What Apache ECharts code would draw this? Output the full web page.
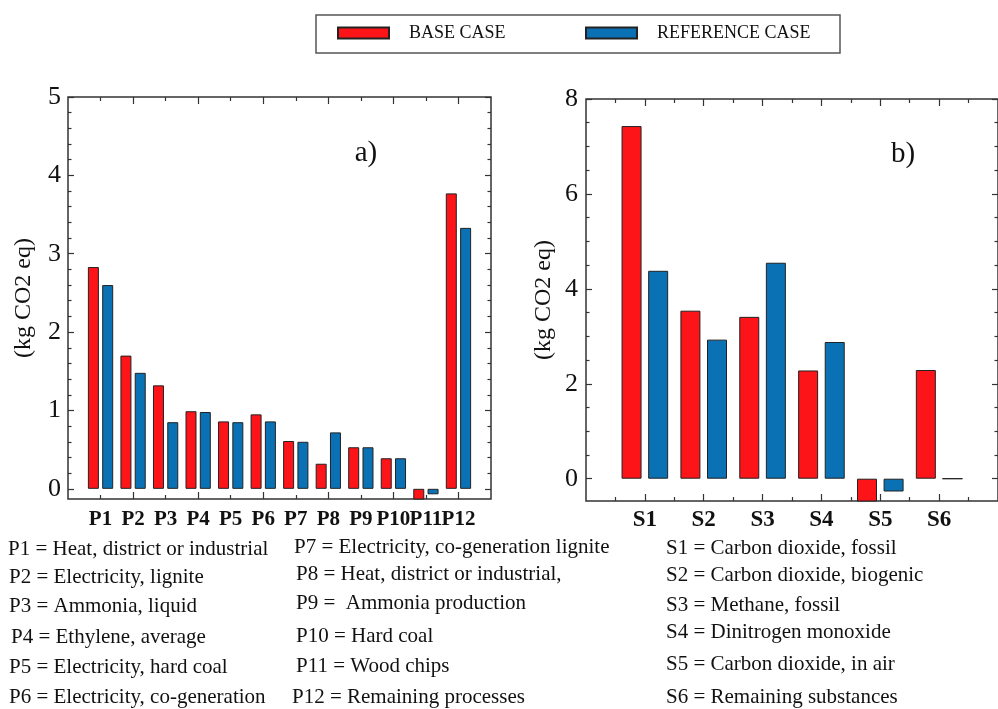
<!DOCTYPE html>
<html>
<head>
<meta charset="utf-8">
<script src="https://cdn.jsdelivr.net/npm/echarts@6/dist/echarts.min.js"></script>
<style>
html,body{margin:0;padding:0;background:#fff;}
#chart{width:998px;height:709px;}
</style>
</head>
<body>
<div id="chart"></div>
<script>
// ---- data ----
const catsA = ['P1','P2','P3','P4','P5','P6','P7','P8','P9','P10','P11','P12'];
const baseA = [2.83, 1.70, 1.32, 0.99, 0.86, 0.95, 0.61, 0.32, 0.53, 0.39, -0.15, 3.77];
const refA  = [2.60, 1.48, 0.85, 0.98, 0.85, 0.86, 0.60, 0.72, 0.53, 0.39, -0.07, 3.33];
const catsB = ['S1','S2','S3','S4','S5','S6'];
const baseB = [7.43, 3.54, 3.41, 2.28, -0.55, 2.29];
const refB  = [4.38, 2.93, 4.55, 2.88, -0.27, 0];
const yTicksA = [0, 1, 2, 3, 4, 5];
const yTicksB = [0, 2, 4, 6, 8];
const seriesNames = ['BASE CASE', 'REFERENCE CASE'];
const notesP = [
  'P1 = Heat, district or industrial', 'P2 = Electricity, lignite', 'P3 = Ammonia, liquid',
  'P4 = Ethylene, average', 'P5 = Electricity, hard coal', 'P6 = Electricity, co-generation'
];
const notesP2 = [
  'P7 = Electricity, co-generation lignite', 'P8 = Heat, district or industrial,', 'P9 =  Ammonia production',
  'P10 = Hard coal', 'P11 = Wood chips', 'P12 = Remaining processes'
];
const notesS = [
  'S1 = Carbon dioxide, fossil', 'S2 = Carbon dioxide, biogenic', 'S3 = Methane, fossil',
  'S4 = Dinitrogen monoxide', 'S5 = Carbon dioxide, in air', 'S6 = Remaining substances'
];

// ---- style ----
const RED = '#fd1418';
const BLUE = '#0a72b4';
const SERIF = '"Liberation Serif", "Times New Roman", serif';
const INK = '#111';

const chart = echarts.init(document.getElementById('chart'), null, {renderer: 'canvas'});

function range(a, b, step) { const r = []; for (let v = a; v <= b + 1e-9; v += step) r.push(+v.toFixed(4)); return r; }
function minus(all, major) { return all.filter(v => !major.some(m => Math.abs(m - v) < 1e-6)); }

function mkAxis(o) {
  const ax = {
    type: 'value', gridIndex: o.grid, position: o.pos, min: o.min, max: o.max,
    axisLine: {show: false, onZero: false},
    splitLine: {show: false},
    axisTick: o.ticks ? {show: true, inside: true, length: o.len, customValues: o.ticks,
      lineStyle: {color: '#333', width: 1.2}} : {show: false},
    axisLabel: o.labels ? {show: true, customValues: o.labels, formatter: o.fmt, margin: o.margin,
      showMinLabel: true, showMaxLabel: true,
      fontFamily: SERIF, fontSize: o.fs, fontWeight: o.fw || 'normal', color: INK} : {show: false}
  };
  if (o.name) {
    ax.name = o.name; ax.nameLocation = 'middle'; ax.nameGap = o.nameGap;
    ax.nameTextStyle = {fontFamily: SERIF, fontSize: 24, color: INK};
  }
  return ax;
}

const xMaxA = catsA.length + 1;
const xMaxB = catsB.length + 1;
const yMinA = -0.13, yMaxA = 5;
const yMinB = -0.47, yMaxB = 8;

const idxA = catsA.map((c, i) => i + 1);
const idxB = catsB.map((c, i) => i + 1);
const xMajA = idxA.filter(v => v % 2 === 0);
const xMinA = idxA.filter(v => v % 2 === 1);
const xMinB = range(0.5, xMaxB - 0.5, 1);
const yMinorA = minus(range(0.2, 4.8, 0.2), yTicksA);
const yMinorB = minus(range(0.5, 7.5, 0.5), yTicksB);
const fmtA = v => catsA[Math.round(v) - 1] || '';
const fmtB = v => catsB[Math.round(v) - 1] || '';

const xAxes = [
  // grid 0 (labels split odd / even so that neighbouring labels never get auto-hidden)
  mkAxis({grid: 0, pos: 'bottom', min: 0, max: xMaxA, ticks: xMajA, len: 7, labels: xMajA,
          fmt: fmtA, margin: 10, fs: 21, fw: 'bold'}),
  mkAxis({grid: 0, pos: 'bottom', min: 0, max: xMaxA, ticks: xMinA, len: 4, labels: xMinA,
          fmt: fmtA, margin: 10, fs: 21, fw: 'bold'}),
  mkAxis({grid: 0, pos: 'top', min: 0, max: xMaxA, ticks: xMajA, len: 7}),
  mkAxis({grid: 0, pos: 'top', min: 0, max: xMaxA, ticks: xMinA, len: 4}),
  // grid 1
  mkAxis({grid: 1, pos: 'bottom', min: 0, max: xMaxB, ticks: idxB, len: 7, labels: idxB,
          fmt: fmtB, margin: 8, fs: 23, fw: 'bold'}),
  mkAxis({grid: 1, pos: 'bottom', min: 0, max: xMaxB, ticks: xMinB, len: 4}),
  mkAxis({grid: 1, pos: 'top', min: 0, max: xMaxB, ticks: idxB, len: 7}),
  mkAxis({grid: 1, pos: 'top', min: 0, max: xMaxB, ticks: xMinB, len: 4})
];
const yAxes = [
  mkAxis({grid: 0, pos: 'left', min: yMinA, max: yMaxA, ticks: yTicksA, len: 6, labels: yTicksA,
          fmt: v => String(v), margin: 7, fs: 26, name: '(kg CO2 eq)', nameGap: 32}),
  mkAxis({grid: 0, pos: 'left', min: yMinA, max: yMaxA, ticks: yMinorA, len: 3.5}),
  mkAxis({grid: 0, pos: 'right', min: yMinA, max: yMaxA, ticks: yTicksA, len: 6}),
  mkAxis({grid: 0, pos: 'right', min: yMinA, max: yMaxA, ticks: yMinorA, len: 3.5}),
  mkAxis({grid: 1, pos: 'left', min: yMinB, max: yMaxB, ticks: yTicksB, len: 6, labels: yTicksB,
          fmt: v => String(v), margin: 8, fs: 26, name: '(kg CO2 eq)', nameGap: 30}),
  mkAxis({grid: 1, pos: 'left', min: yMinB, max: yMaxB, ticks: yMinorB, len: 3.5}),
  mkAxis({grid: 1, pos: 'right', min: yMinB, max: yMaxB, ticks: yTicksB, len: 6}),
  mkAxis({grid: 1, pos: 'right', min: yMinB, max: yMaxB, ticks: yMinorB, len: 3.5})
];

function barSeries(name, color, data, xi, yi, width, gap) {
  return {
    type: 'bar', name: name, xAxisIndex: xi, yAxisIndex: yi,
    data: data.map((v, i) => [i + 1, v]),
    barWidth: width, barGap: gap, clip: true,
    itemStyle: {color: color, borderColor: '#222', borderWidth: 1},
    emphasis: {disabled: true}, animation: false
  };
}

const graphics = [
  {type: 'rect', shape: {x: 316, y: 15, width: 524, height: 38},
   style: {fill: 'none', stroke: '#555', lineWidth: 1.5}, silent: true},
  {type: 'text', x: 366, y: 153, style: {text: 'a)', font: '29px ' + SERIF, fill: INK, align: 'center', verticalAlign: 'middle'}},
  {type: 'text', x: 903, y: 154, style: {text: 'b)', font: '29px ' + SERIF, fill: INK, align: 'center', verticalAlign: 'middle'}}
];
const rowsY = [549, 577, 606, 637, 667, 697];
const colX1 = [8, 9, 9, 11, 9, 9];
const colX2 = [294, 296, 296, 296, 296, 292];
notesP.forEach((t, i) => graphics.push({type: 'text', x: colX1[i], y: rowsY[i],
  style: {text: t, font: '21px ' + SERIF, fill: INK, verticalAlign: 'middle'}}));
const rowsY2 = [547, 574, 603, 636, 666, 697];
notesP2.forEach((t, i) => graphics.push({type: 'text', x: colX2[i], y: rowsY2[i],
  style: {text: t, font: '21px ' + SERIF, fill: INK, verticalAlign: 'middle'}}));
const rowsY3 = [548, 575, 605, 632, 664, 697];
notesS.forEach((t, i) => graphics.push({type: 'text', x: 666, y: rowsY3[i],
  style: {text: t, font: '21px ' + SERIF, fill: INK, verticalAlign: 'middle'}}));

function legendAt(name, left) {
  return {data: [name], left: left, top: 24, padding: 0, icon: 'rect', itemWidth: 51, itemHeight: 11,
    selectedMode: false, textStyle: {fontFamily: SERIF, fontSize: 18, color: INK, padding: [0, 0, 0, 15]}};
}

chart.setOption({
  animation: false,
  backgroundColor: '#fff',
  legend: [legendAt(seriesNames[0], 337), legendAt(seriesNames[1], 585)],
  grid: [
    {left: 68, top: 97, width: 423, height: 402, show: true, borderColor: '#333', borderWidth: 1.5, backgroundColor: 'transparent'},
    {left: 586, top: 99, width: 413, height: 402, show: true, borderColor: '#333', borderWidth: 1.5, backgroundColor: 'transparent'}
  ],
  xAxis: xAxes,
  yAxis: yAxes,
  series: [
    barSeries(seriesNames[0], RED, baseA, 0, 0, 11, '30%'),
    barSeries(seriesNames[1], BLUE, refA, 0, 0, 11, '30%'),
    barSeries(seriesNames[0], RED, baseB, 4, 4, 20, '33%'),
    barSeries(seriesNames[1], BLUE, refB, 4, 4, 20, '33%')
  ],
  graphic: graphics
});
</script>
</body>
</html>
